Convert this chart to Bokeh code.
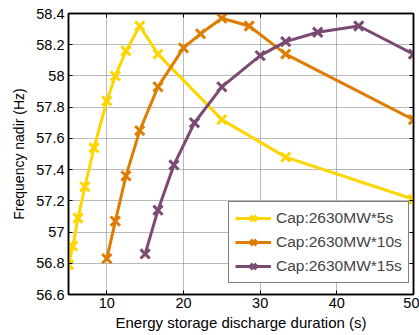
from bokeh.plotting import figure
from bokeh.models import LinearAxis, Range1d, FixedTicker, Legend, LegendItem, CustomJSTickFormatter
from bokeh.embed import file_html
from bokeh.resources import INLINE

x5 = [5.0, 5.56, 6.25, 7.14, 8.33, 10.0, 11.11, 12.5, 14.29, 16.67, 25.0, 33.33, 50.0]
y5 = [56.79, 56.91, 57.09, 57.29, 57.54, 57.84, 58.0, 58.16, 58.32, 58.14, 57.72, 57.48, 57.21]
x10 = [10.0, 11.11, 12.5, 14.29, 16.67, 20.0, 22.22, 25.0, 28.57, 33.33, 50.0]
y10 = [56.83, 57.07, 57.36, 57.65, 57.93, 58.18, 58.27, 58.37, 58.32, 58.14, 57.72]
x15 = [15.0, 16.67, 18.75, 21.43, 25.0, 30.0, 33.33, 37.5, 42.86, 50.0]
y15 = [56.86, 57.14, 57.43, 57.70, 57.93, 58.13, 58.22, 58.28, 58.32, 58.14]
labels = ["Cap:2630MW*5s", "Cap:2630MW*10s", "Cap:2630MW*15s"]
colors = ["#FFD500", "#DE7D00", "#7A4A72"]
xticks = [10, 20, 30, 40, 50]
yticks = [56.6, 56.8, 57.0, 57.2, 57.4, 57.6, 57.8, 58.0, 58.2, 58.4]

FONT = "Liberation Sans"

p = figure(frame_width=345, frame_height=281, output_backend="svg", toolbar_location=None,
           x_range=Range1d(5, 50), y_range=Range1d(56.6, 58.4),
           min_border_left=68, min_border_right=6, min_border_top=13, min_border_bottom=41)
p.background_fill_color = "white"
p.border_fill_color = "white"
p.outline_line_color = "black"
p.outline_line_width = 1.5

fmt = CustomJSTickFormatter(code="return (Math.round(tick*10)/10).toString();")
blank = CustomJSTickFormatter(code="return '';")

for ax in p.xaxis + p.yaxis:
    ax.major_tick_in = 4
    ax.major_tick_out = 0
    ax.minor_tick_in = 0
    ax.minor_tick_out = 0
    ax.axis_line_width = 1.5
    ax.major_label_text_font = FONT
    ax.major_label_text_font_size = "14.5px"
    ax.major_label_text_color = "black"
    ax.axis_label_text_font = FONT
    ax.axis_label_text_font_style = "normal"
    ax.axis_label_text_color = "black"
p.xaxis.ticker = FixedTicker(ticks=xticks)
p.yaxis.ticker = FixedTicker(ticks=yticks)
p.yaxis.formatter = fmt
p.xaxis.axis_label = "Energy storage discharge duration (s)"
p.yaxis.axis_label = "Frequency nadir (Hz)"
p.xaxis.axis_label_text_font_size = "15px"
p.yaxis.axis_label_text_font_size = "14px"
p.xaxis.major_label_standoff = 3
p.yaxis.major_label_standoff = 4
p.xaxis.axis_label_standoff = 3
p.yaxis.axis_label_standoff = 6

for loc, tk in (("right", yticks), ("above", xticks)):
    a = LinearAxis(ticker=FixedTicker(ticks=tk), formatter=blank,
                   major_tick_in=4, major_tick_out=0, minor_tick_in=0, minor_tick_out=0,
                   axis_line_width=1.5)
    p.add_layout(a, loc)

p.xgrid.ticker = FixedTicker(ticks=xticks)
p.ygrid.ticker = FixedTicker(ticks=yticks)
for g in (p.xgrid, p.ygrid):
    g.grid_line_color = "#777777"
    g.grid_line_dash = "1 1"
    g.grid_line_width = 1

items = []
for xs, ys, c, lab in zip([x5, x10, x15], [y5, y10, y15], colors, labels):
    r1 = p.line(xs, ys, line_color=c, line_width=3)
    r2 = p.scatter(xs, ys, marker="x", size=13, line_color=c, line_width=3)
    items.append(LegendItem(label=lab, renderers=[r1, r2]))

leg = Legend(items=items, location=(160, 11))
leg.label_text_font = FONT
leg.label_text_font_size = "15.5px"
leg.border_line_color = "black"
leg.border_line_width = 1.5
leg.background_fill_alpha = 1
leg.margin = 0
leg.padding = 6
leg.spacing = 4
leg.glyph_width = 36
leg.glyph_height = 20
leg.label_height = 20
leg.label_standoff = 5
p.add_layout(leg, "center")

open("out.html", "w").write(file_html(p, INLINE))
